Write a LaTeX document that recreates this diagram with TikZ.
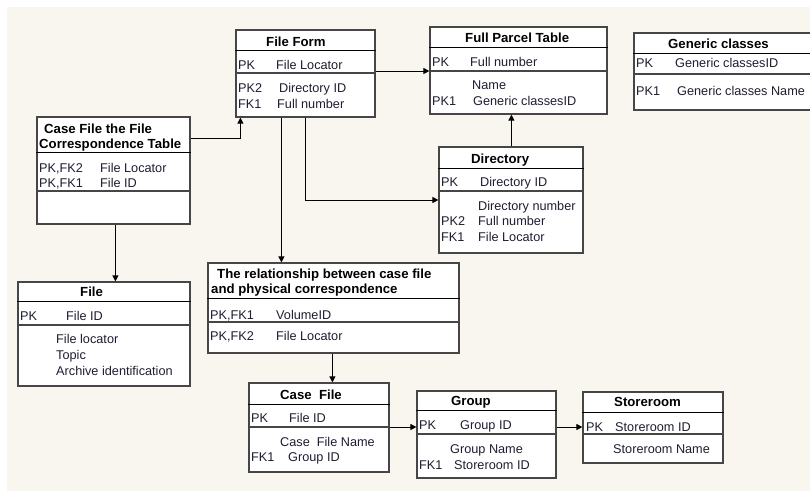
\documentclass[tikz,border=0pt]{standalone}
\usepackage{fontspec}
\setmainfont{Liberation Sans}
\usetikzlibrary{fit,arrows.meta}
\definecolor{cream}{RGB}{249,246,240}
\definecolor{bordercol}{RGB}{70,70,70}
\definecolor{textcol}{RGB}{30,30,50}
\tikzset{
  tbl/.style={draw=bordercol, fill=white, line width=1.2pt, inner sep=0pt},
  titlesep/.style={draw=black, line width=1pt},
  rowsep/.style={draw=bordercol, line width=1.4pt},
  lbl/.style={anchor=base west, inner sep=0pt, text=textcol, font=\fontsize{12.7}{14}\selectfont},
  ttl/.style={anchor=base west, inner sep=0pt, text=black, font=\fontsize{13.2}{15}\selectfont\bfseries},
  conn/.style={draw=black, line width=0.9pt, -{Triangle[length=6pt,width=6pt]}},
}
\newcommand\erbox[7]{%
  \node[tbl, fit={(#2,#3) (#4,#5)}] (#1) {};
  \draw[titlesep] (#1.west |- 0,#6) -- (#1.east |- 0,#6);
  \draw[rowsep] (#1.west |- 0,#7) -- (#1.east |- 0,#7);
}
\begin{document}
\begin{tikzpicture}[x=1pt,y=-1pt]
\useasboundingbox (0,0) rectangle (810,491);
\fill[cream] (7,7) rectangle (810,491);

% boxes
\erbox{ff}{236}{30}{375}{117}{50}{73}
\erbox{fp}{430}{27}{607}{114}{47}{71}
\begin{scope}
\clip (0,0) rectangle (810,491);
\erbox{gc}{634}{33}{816}{110}{53}{74}
\end{scope}
\erbox{corr}{37}{117}{190}{224}{152}{191}
\erbox{dir}{439}{147}{583}{253}{168}{191}
\erbox{rel}{208}{263}{459}{353}{298}{322}
\erbox{file}{18}{282}{190}{386}{301}{325}
\erbox{cf}{249}{383}{389}{472}{404}{427}
\erbox{grp}{417}{391}{556}{478}{410}{434}
\erbox{st}{583}{392}{723}{463}{412}{434}

% File Form
\node[ttl] (ff-t) at (266,46) {File Form};
\node[lbl] (ff-a) at (238,69) {PK};
\node[lbl] (ff-b) at (276,69) {File Locator};
\node[lbl] (ff-c) at (238,92) {PK2};
\node[lbl] (ff-d) at (279,92) {Directory ID};
\node[lbl] (ff-e) at (238,108.5) {FK1};
\node[lbl] (ff-f) at (277,108.5) {Full number};

% Full Parcel Table
\node[ttl] (fp-t) at (465,42) {Full Parcel Table};
\node[lbl] (fp-a) at (432,66) {PK};
\node[lbl] (fp-b) at (470,66) {Full number};
\node[lbl] (fp-c) at (472,89.5) {Name};
\node[lbl] (fp-d) at (432,105.5) {PK1};
\node[lbl] (fp-e) at (473,105.5) {Generic classesID};

% Generic classes
\node[ttl] (gc-t) at (668,48.5) {Generic classes};
\node[lbl] (gc-a) at (636,67) {PK};
\node[lbl] (gc-b) at (675,67) {Generic classesID};
\node[lbl] (gc-c) at (636,95.5) {PK1};
\node[lbl] (gc-d) at (677,95.5) {Generic classes Name};

% Case File the File Correspondence Table
\node[ttl] (corr-t1) at (44,133) {Case File the File};
\node[ttl] (corr-t2) at (39,148) {Correspondence Table};
\node[lbl] (corr-a) at (39,172) {PK,FK2};
\node[lbl] (corr-b) at (100,172) {File Locator};
\node[lbl] (corr-c) at (39,187) {PK,FK1};
\node[lbl] (corr-d) at (100,187) {File ID};

% Directory
\node[ttl] (dir-t) at (471,163) {Directory};
\node[lbl] (dir-a) at (441,186) {PK};
\node[lbl] (dir-b) at (480,186) {Directory ID};
\node[lbl] (dir-c) at (478,210) {Directory number};
\node[lbl] (dir-d) at (441,225.5) {PK2};
\node[lbl] (dir-e) at (478,225.5) {Full number};
\node[lbl] (dir-f) at (441,241) {FK1};
\node[lbl] (dir-g) at (478,241) {File Locator};

% Relationship
\node[ttl] (rel-t1) at (217,278) {The relationship between case file};
\node[ttl] (rel-t2) at (211,293) {and physical correspondence};
\node[lbl] (rel-a) at (210,319) {PK,FK1};
\node[lbl] (rel-b) at (276,319) {VolumeID};
\node[lbl] (rel-c) at (210,340.5) {PK,FK2};
\node[lbl] (rel-d) at (276,340.5) {File Locator};

% File
\node[ttl] (file-t) at (80,296) {File};
\node[lbl] (file-a) at (20,320.5) {PK};
\node[lbl] (file-b) at (66,320.5) {File ID};
\node[lbl] (file-c) at (56,343.5) {File locator};
\node[lbl] (file-d) at (56,359.5) {Topic};
\node[lbl] (file-e) at (56,375.5) {Archive identification};

% Case File
\node[ttl] (cf-t) at (280,399.5) {Case\ \ File};
\node[lbl] (cf-a) at (251,422) {PK};
\node[lbl] (cf-b) at (289,422) {File ID};
\node[lbl] (cf-c) at (280,446) {Case\ \ File Name};
\node[lbl] (cf-d) at (251,461) {FK1};
\node[lbl] (cf-e) at (288,461) {Group ID};

% Group
\node[ttl] (grp-t) at (451,405.5) {Group};
\node[lbl] (grp-a) at (419,429.5) {PK};
\node[lbl] (grp-b) at (460,429.5) {Group ID};
\node[lbl] (grp-c) at (450,453) {Group Name};
\node[lbl] (grp-d) at (419,469) {FK1};
\node[lbl] (grp-e) at (454,469) {Storeroom ID};

% Storeroom
\node[ttl] (st-t) at (614,406) {Storeroom};
\node[lbl] (st-a) at (586,431) {PK};
\node[lbl] (st-b) at (615,431) {Storeroom ID};
\node[lbl] (st-c) at (613,453.5) {Storeroom Name};

% connectors
\draw[conn] (ff.east |- 0,71) -- (fp.west |- 0,71);
\draw[conn] ([xshift=73pt]dir.north west) -- ([xshift=73pt]dir.north west |- fp.south);
\draw[conn] (corr.east |- 0,138) -| ([xshift=5pt]ff.south west);
\draw[conn] ([xshift=46pt]ff.south west) -- ([xshift=46pt]ff.south west |- rel.north);
\draw[conn] ([xshift=70pt]ff.south west) |- (dir.west |- 0,200);
\draw[conn] ([xshift=79pt]corr.south west) -- ([xshift=79pt]corr.south west |- file.north);
\draw[conn] ([xshift=125pt]rel.south west) -- ([xshift=125pt]rel.south west |- cf.north);
\draw[conn] (cf.east |- 0,427) -- (grp.west |- 0,427);
\draw[conn] (grp.east |- 0,427) -- (st.west |- 0,427);
\end{tikzpicture}
\end{document}
